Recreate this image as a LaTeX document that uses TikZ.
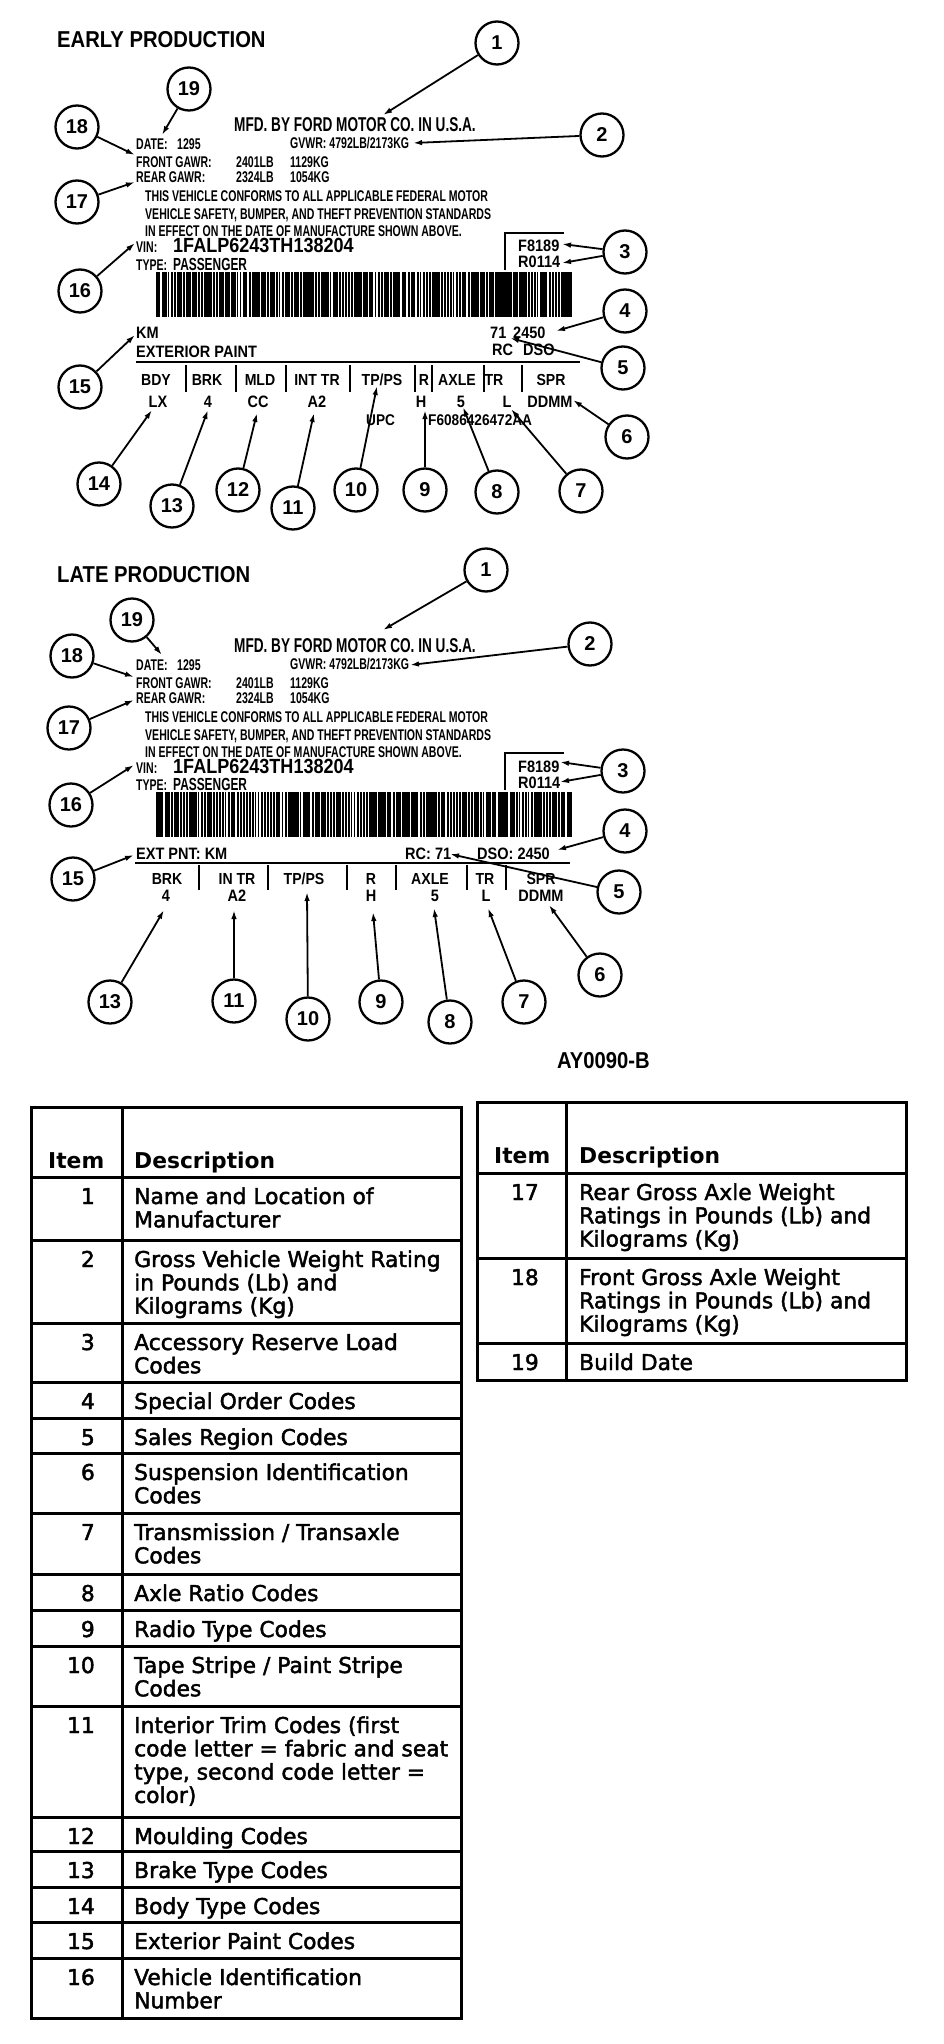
\documentclass[tikz,border=0pt]{standalone}
\usepackage{fontspec}
\setmainfont{DejaVu Sans}
\newfontfamily\cellfont[FakeBold=2]{DejaVu Sans}
\newfontfamily\condfont[FakeStretch=0.68]{Liberation Sans Bold}
\newfontfamily\lblfont[FakeStretch=0.88]{Liberation Sans Bold}
\newfontfamily\numfont{Liberation Sans Bold}
\usetikzlibrary{arrows.meta}
\newcommand{\cell}[1]{\parbox[t]{330pt}{\raggedright #1}}
\tikzset{
	callout/.style={draw, circle, line width=2.3pt, minimum size=43pt, inner sep=0pt,
			font=\numfont\fontsize{20}{20}\selectfont},
	pointer/.style={line width=1.8pt, -{Latex[length=9pt,width=5.5pt]}},
	labelrule/.style={line width=2.3pt},
	tablerule/.style={line width=3pt}
}
\tikzset{
	smalltext/.style={inner sep=0pt, anchor=base west, font=\condfont\fontsize{15.5}{16}\selectfont},
	bigtext/.style={inner sep=0pt, anchor=base west, font=\condfont\fontsize{20}{20}\selectfont},
	vintext/.style={inner sep=0pt, anchor=base west, font=\lblfont\fontsize{20.5}{21}\selectfont},
	codetext/.style={inner sep=0pt, anchor=base west, font=\lblfont\fontsize{16.5}{17}\selectfont},
	colhead/.style={inner sep=0pt, anchor=base, font=\lblfont\fontsize{16}{16}\selectfont},
	colvalue/.style={inner sep=0pt, anchor=base, font=\lblfont\fontsize{16.5}{17}\selectfont},
	titletext/.style={inner sep=0pt, anchor=base west, font=\lblfont\fontsize{23}{23}\selectfont},
	celltext/.style={inner sep=0pt, anchor=base west, font=\cellfont\fontsize{21.8}{23.3}\selectfont},
	cellnum/.style={inner sep=0pt, anchor=base east, font=\cellfont\fontsize{21.8}{23.3}\selectfont},
	cellhead/.style={inner sep=0pt, anchor=base west, font=\bfseries\fontsize{21.8}{23.3}\selectfont}
}
\tikzset{
	barcode/.pic={
			\pgfmathsetseed{#1}
			\foreach \i in {0,...,138}{
				\pgfmathsetmacro\bw{rnd<0.14 ? 0.5 : 1.9+1*rnd}
				\fill (\i*3,0) rectangle ++(\bw,45);
			}
		}
}
\tikzset{
	labelhead/.pic={
			\node[bigtext] (-mfd) at (234,132) {MFD. BY FORD MOTOR CO. IN U.S.A.};
			\node[smalltext] (-date) at (136,150) {DATE:};
			\node[smalltext] (-dateval) at (177,150) {1295};
			\node[smalltext] (-gvwr) at (290,149) {GVWR: 4792LB/2173KG};
			\node[smalltext] (-front) at (136,168) {FRONT GAWR:};
			\node[smalltext] (-frontlb) at (236,168) {2401LB};
			\node[smalltext] (-frontkg) at (290,168) {1129KG};
			\node[smalltext] (-rear) at (136,183) {REAR GAWR:};
			\node[smalltext] (-rearlb) at (236,183) {2324LB};
			\node[smalltext] (-rearkg) at (290,183) {1054KG};
			\node[smalltext] (-conf1) at (145,202) {THIS VEHICLE CONFORMS TO ALL APPLICABLE FEDERAL MOTOR};
			\node[smalltext] (-conf2) at (145,220) {VEHICLE SAFETY, BUMPER, AND THEFT PREVENTION STANDARDS};
			\node[smalltext] (-conf3) at (145,237) {IN EFFECT ON THE DATE OF MANUFACTURE SHOWN ABOVE.};
			\node[smalltext] (-vin) at (136,253) {VIN:};
			\node[vintext] (-vinno) at (173,253) {1FALP6243TH138204};
			\node[smalltext] (-type) at (136,270) {TYPE:};
			\node[smalltext, font=\condfont\fontsize{17.5}{18}\selectfont] (-typeval) at (173,270) {PASSENGER};
			\draw[labelrule] (505,270) -- (505,233) -- (564,233);
			\node[codetext] (-arlcf) at (518,252) {F8189};
			\node[codetext] (-arlcr) at (518,268) {R0114};
			\pic at (156,272) {barcode=#1};
		}
}

\begin{document}
\begin{tikzpicture}[x=1pt, y=-1pt]
\useasboundingbox (0,0) rectangle (944,2044);

% early production label
\node[titletext] (earlyTitle) at (57,48) {EARLY PRODUCTION};
\pic (early) at (0,0) {labelhead=5};

\node[codetext] (eKm) at (136,338) {KM};
\node[codetext] (ePaint) at (136,357) {EXTERIOR PAINT};
\node[codetext] (eRc) at (490,338) {71};
\node[codetext] (eDso) at (513,338) {2450};
\node[codetext] (eRcHead) at (492,355) {RC};
\node[codetext] (eDsoHead) at (523,355) {DSO};
\draw[labelrule] (136,362) -- (580,362);

\foreach \x/\name/\txt in {156/bdy/BDY, 207/brk/BRK, 260/mld/MLD, 317/inttr/INT TR, 382/tpps/{TP/PS},
		424/r/R, 457/axle/AXLE, 494/tr/TR, 551/spr/SPR}
	\node[colhead] (eh\name) at (\x,385) {\txt};
\foreach \x in {186,236,286,350,415,432,484,522}
	\draw[labelrule] (\x,365) -- (\x,392);
\foreach \x/\name/\txt in {158/bdy/LX, 208/brk/4, 258/mld/CC, 317/inttr/A2, 421/r/H, 461/axle/5, 507/tr/L, 550/spr/DDMM}
	\node[colvalue] (ev\name) at (\x,407) {\txt};
\node[codetext, font=\lblfont\fontsize{15.5}{16}\selectfont] (eUpc) at (366,425) {UPC};
\node[codetext, font=\lblfont\fontsize{15.5}{16}\selectfont] (ePart) at (428,425) {F6086426472AA};

\foreach \n/\x/\y in {1/497/43, 2/602/135, 3/625/252, 4/625/311, 5/623/368, 6/627/437, 7/581/491,
		8/497/492, 9/425/490, 10/356/490, 11/293/508, 12/238/490, 13/172/506, 14/99/484,
		15/80/387, 16/80/291, 17/77/202, 18/77/127, 19/189/89}
	\node[callout] (e\n) at (\x,\y) {\n};

\foreach \n/\x/\y in {1/383/115, 2/413/143, 4/556/331, 5/510/338, 6/573/400, 7/511/409, 8/463/407,
		9/425/410, 10/377/386, 11/314/413, 12/257/413, 13/208/410, 14/152/410, 15/135/335,
		16/135/243, 17/135/182, 18/135/155, 19/162/135}
	\coordinate (et\n) at (\x,\y);
\coordinate (et3a) at (562,244);
\coordinate (et3b) at (562,263);

\foreach \n in {1,2,4,5,...,19}
	\draw[pointer] (e\n) -- (et\n);
\draw[pointer] (e3) -- (et3a);
\draw[pointer] (e3) -- (et3b);

% late production label
\node[titletext] (lateTitle) at (57,582) {LATE PRODUCTION};
\pic (late) at (0,520) {labelhead=9};

\node[codetext] (lPaint) at (136,859) {EXT PNT: KM};
\node[codetext] (lRc) at (405,859) {RC: 71};
\node[codetext] (lDso) at (477,859) {DSO: 2450};
\draw[labelrule] (135,863) -- (570,863);

\foreach \x/\name/\txt in {167/brk/BRK, 237/intr/IN TR, 304/tpps/{TP/PS}, 371/r/R, 430/axle/AXLE,
		485/tr/TR, 541/spr/SPR}
	\node[colhead] (lh\name) at (\x,884) {\txt};
\foreach \x in {199,268,347,396,467,506}
	\draw[labelrule] (\x,865) -- (\x,890);
\foreach \x/\name/\txt in {166/brk/4, 237/intr/A2, 371/r/H, 435/axle/5, 486/tr/L, 541/spr/DDMM}
	\node[colvalue] (lv\name) at (\x,901) {\txt};

\foreach \n/\x/\y in {1/486/570, 2/590/644, 3/623/771, 4/625/831, 5/619/892, 6/600/975, 7/524/1002,
		8/450/1022, 9/381/1002, 10/308/1019, 11/234/1001, 13/110/1002, 15/73/879, 16/71/805,
		17/69/728, 18/72/656, 19/132/620}
	\node[callout] (l\n) at (\x,\y) {\n};

\foreach \n/\x/\y in {1/383/630, 2/410/665, 4/557/850, 5/450/854, 6/549/905, 7/488/908, 8/434/908,
		9/373/912, 10/307/892, 11/234/910, 13/164/910, 15/134/855, 16/134/765, 17/134/700,
		18/134/677, 19/162/655}
	\coordinate (lt\n) at (\x,\y);
\coordinate (lt3a) at (560,762);
\coordinate (lt3b) at (560,782);

\foreach \n in {1,2,4,5,6,7,8,9,10,11,13,15,16,17,18,19}
	\draw[pointer] (l\n) -- (lt\n);
\draw[pointer] (l3) -- (lt3a);
\draw[pointer] (l3) -- (lt3b);

\node[titletext] (figRef) at (557,1068) {AY0090-B};

% left table
\draw[tablerule] (31,1107) rectangle (461,1177);
\node[cellhead] (itemHeadL) at (48,1168) {Item};
\node[cellhead] (descHeadL) at (134,1168) {Description};
\foreach \n/\ya/\yb/\txt in {
		1/1177/1240/{Name and Location of\\Manufacturer},
		2/1240/1323/{Gross Vehicle Weight Rating\\in Pounds (Lb) and\\Kilograms (Kg)},
		3/1323/1382/{Accessory Reserve Load\\Codes},
		4/1382/1418/{Special Order Codes},
		5/1418/1453/{Sales Region Codes},
		6/1453/1513/{Suspension Identification\\Codes},
		7/1513/1574/{Transmission / Transaxle\\Codes},
		8/1574/1610/{Axle Ratio Codes},
		9/1610/1646/{Radio Type Codes},
		10/1646/1706/{Tape Stripe / Paint Stripe\\Codes},
		11/1706/1817/{Interior Trim Codes (first\\code letter = fabric and seat\\type, second code letter =\\color)},
		12/1817/1851/{Moulding Codes},
		13/1851/1887/{Brake Type Codes},
		14/1887/1922/{Body Type Codes},
		15/1922/1958/{Exterior Paint Codes},
		16/1958/2018/{Vehicle Identification\\Number}}{
	\draw[tablerule] (31,\ya) rectangle (461,\yb);
	\node[cellnum] (item\n) at (95,{\ya+27}) {\n};
	\node[celltext] (desc\n) at (134,{\ya+27}) {\cell{\txt}};
}
\draw[tablerule] (122,1107) -- (122,2018);

% right table
\draw[tablerule] (477,1102) rectangle (906,1173);
\node[cellhead] (itemHeadR) at (494,1163) {Item};
\node[cellhead] (descHeadR) at (579,1163) {Description};
\foreach \n/\ya/\yb/\txt in {
		17/1173/1258/{Rear Gross Axle Weight\\Ratings in Pounds (Lb) and\\Kilograms (Kg)},
		18/1258/1343/{Front Gross Axle Weight\\Ratings in Pounds (Lb) and\\Kilograms (Kg)},
		19/1343/1380/{Build Date}}{
	\draw[tablerule] (477,\ya) rectangle (906,\yb);
	\node[cellnum] (item\n) at (539,{\ya+27}) {\n};
	\node[celltext] (desc\n) at (579,{\ya+27}) {\cell{\txt}};
}
\draw[tablerule] (566,1102) -- (566,1380);

\end{tikzpicture}
\end{document}
